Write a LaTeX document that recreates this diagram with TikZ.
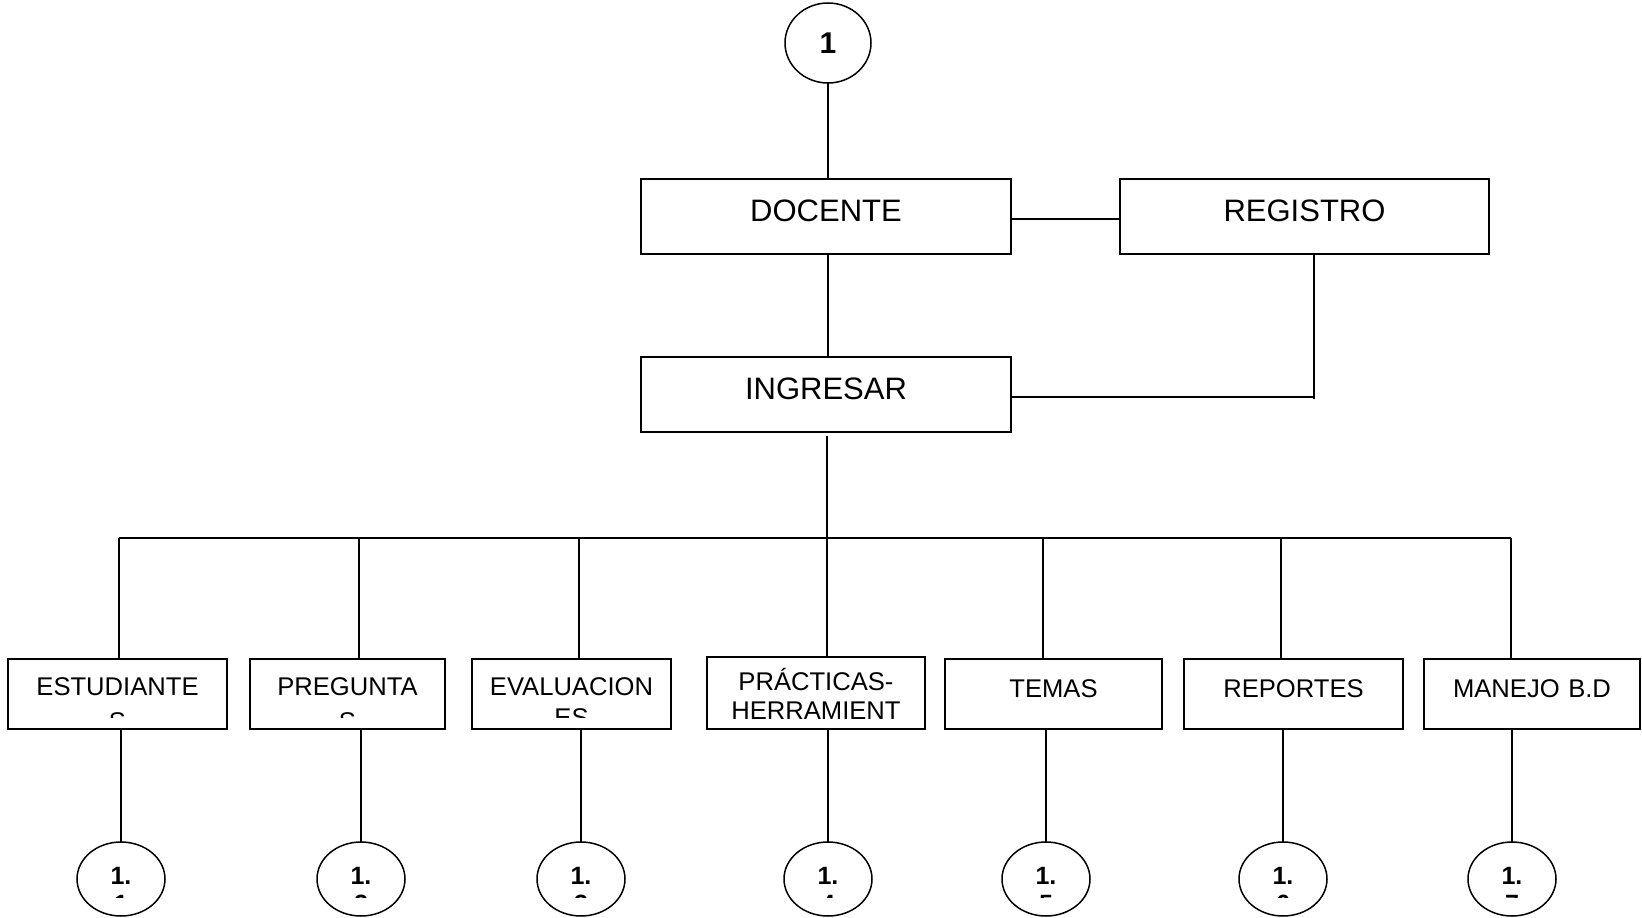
\documentclass[tikz,border=0pt]{standalone}
\usepackage{fontspec}
\setmainfont{Liberation Sans}
\usetikzlibrary{shapes.geometric}

% text of a box, clipped to the box interior
% #1 box, #2 label name, #3 baseline below top edge, #4 clip inset above bottom edge, #5 text
\newcommand{\boxtext}[5]{%
  \begin{scope}
    \clip (#1.north west) rectangle ([yshift=#4]#1.south east);
    \node[sublbl, anchor=base] (#2) at ([yshift=-#3]#1.north) {#5};
  \end{scope}}

% number inside a bottom connector circle, second line clipped
\newcommand{\circtext}[3]{%
  \begin{scope}
    \clip ([xshift=-44pt,yshift=37pt]#1.center) rectangle ([xshift=44pt,yshift=-18pt]#1.center);
    \node[numlbl, anchor=base] (#2) at ([yshift=-42pt]#1.north) {#3};
  \end{scope}}

\begin{document}
\begin{tikzpicture}[x=1pt,y=-1pt,
  every node/.style={inner sep=0pt, outer sep=0pt},
  conn/.style={line width=1.5pt},
  box/.style={draw, line width=1.5pt, rectangle},
  ell/.style={draw, line width=1.5pt, ellipse},
  biglbl/.style={font=\fontsize{31}{36}\selectfont},
  sublbl/.style={font=\fontsize{25.6}{29}\selectfont, text width=240pt, align=center},
  numlbl/.style={font=\bfseries\fontsize{25}{28}\selectfont, text width=80pt, align=center}]
\useasboundingbox (0,0) rectangle (1642,918);

% top connector
\node[ell, minimum width=86pt, minimum height=80pt,
      font=\bfseries\fontsize{30}{33}\selectfont] (c0) at (828,43) {1};

% upper boxes
\node[box, minimum width=370pt, minimum height=75pt] (doc) at (826,216.5) {};
\node[biglbl, anchor=base] (doct) at ([yshift=-42pt]doc.north) {DOCENTE};
\node[box, minimum width=369pt, minimum height=75pt] (reg) at (1304.5,216.5) {};
\node[biglbl, anchor=base] (regt) at ([yshift=-42pt]reg.north) {REGISTRO};
\node[box, minimum width=370pt, minimum height=75pt] (ing) at (826,394.5) {};
\node[biglbl, anchor=base] (ingt) at ([yshift=-42pt]ing.north) {INGRESAR};

\draw[conn] (c0.south) -- (c0.south |- doc.north);
\draw[conn] (doc.east |- 0,219) -- (reg.west |- 0,219);
\draw[conn] (doc.south -| c0.south) -- (ing.north -| c0.south);
\coordinate (rdrop) at (1314,399);
\draw[conn] (reg.south -| rdrop) -- (rdrop);
\draw[conn] (ing.east |- 0,397) -- (rdrop |- 0,397);

% distribution bus
\coordinate (bus) at (827,538);
\draw[conn] ([yshift=-4pt]ing.south -| bus) -- (bus);
\coordinate (d1) at (119,538);
\coordinate (d2) at (359,538);
\coordinate (d3) at (579,538);
\coordinate (d4) at (827,538);
\coordinate (d5) at (1043,538);
\coordinate (d6) at (1281,538);
\coordinate (d7) at (1511,538);
\draw[conn] (d1) -- (d7);

% lower boxes
\node[box, minimum width=219pt, minimum height=70pt] (e1) at (117.5,694) {};
\node[box, minimum width=195pt, minimum height=70pt] (e2) at (347.5,694) {};
\node[box, minimum width=199pt, minimum height=70pt] (e3) at (571.5,694) {};
\node[box, minimum width=218pt, minimum height=72pt] (e4) at (816,693) {};
\node[box, minimum width=217pt, minimum height=70pt] (e5) at (1053.5,694) {};
\node[box, minimum width=219pt, minimum height=70pt] (e6) at (1293.5,694) {};
\node[box, minimum width=216pt, minimum height=70pt] (e7) at (1532,694) {};

\boxtext{e1}{e1t}{36pt}{12pt}{ESTUDIANTE\\[6pt]S}
\boxtext{e2}{e2t}{36pt}{12pt}{PREGUNTA\\[6pt]S}
\boxtext{e3}{e3t}{36pt}{12pt}{EVALUACION\\[2pt]ES}
\boxtext{e4}{e4t}{33pt}{6pt}{PRÁCTICAS-\\HERRAMIENT\\AS}
\boxtext{e5}{e5t}{38pt}{12pt}{TEMAS}
\boxtext{e6}{e6t}{38pt}{12pt}{REPORTES}
\boxtext{e7}{e7t}{38pt}{12pt}{MANEJO B.D}

\foreach \i in {1,...,7}{\draw[conn] (d\i) -- (d\i |- e\i.north);}

% lower connectors
\node[ell, minimum width=88pt, minimum height=74pt] (f1) at (121,879) {};
\node[ell, minimum width=88pt, minimum height=74pt] (f2) at (361,879) {};
\node[ell, minimum width=88pt, minimum height=74pt] (f3) at (581,879) {};
\node[ell, minimum width=88pt, minimum height=74pt] (f4) at (828,879) {};
\node[ell, minimum width=88pt, minimum height=74pt] (f5) at (1046,879) {};
\node[ell, minimum width=88pt, minimum height=74pt] (f6) at (1283,879) {};
\node[ell, minimum width=88pt, minimum height=74pt] (f7) at (1512,879) {};

\foreach \i in {1,...,7}{
  \draw[conn] (f\i.north |- e\i.south) -- (f\i.north);
  \circtext{f\i}{f\i t}{1.\\\i}
}
\end{tikzpicture}
\end{document}
